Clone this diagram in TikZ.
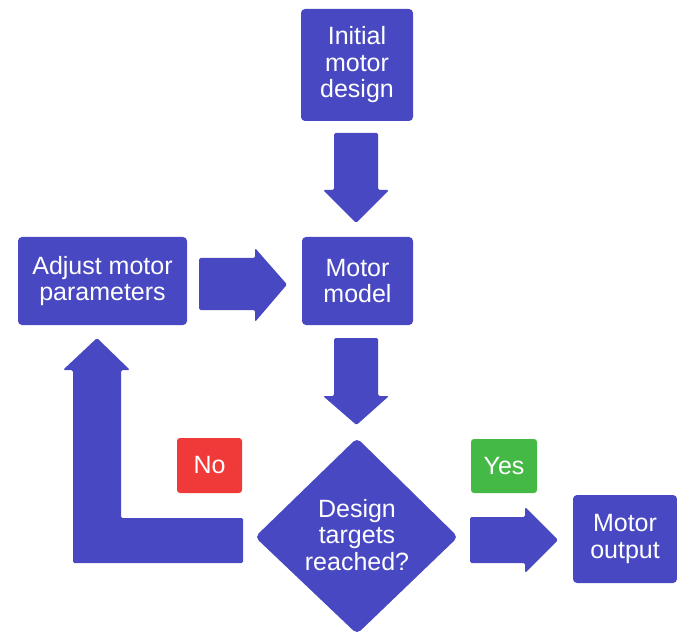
\documentclass[tikz,border=0pt]{standalone}
\usepackage{fontspec}
\setmainfont{Liberation Sans}
\definecolor{fblue}{HTML}{4848C2}
\definecolor{fred}{HTML}{F03A3A}
\definecolor{fgreen}{HTML}{45B946}
\begin{document}
\begin{tikzpicture}[x=1pt,y=-1pt,
  box/.style={fill=fblue, rounded corners=4pt, inner sep=0pt, text=white, align=center,
    font=\fontsize{25}{26.5}\selectfont},
  tag/.style={rounded corners=3pt, inner sep=0pt, text=white,
    font=\fontsize{25}{26.5}\selectfont},
  blk/.style={fill=fblue, rounded corners=1.5pt}]
\useasboundingbox (0,0) rectangle (677,636);
% boxes
\node[box, minimum width=112pt, minimum height=112pt] (init) at (357,65) {Initial\\motor\\design};
\node[box, minimum width=111pt, minimum height=88pt] (model) at (357.5,281) {Motor\\model};
\node[box, minimum width=169pt, minimum height=88pt] (adjust) at (102.5,281) {Adjust motor\\parameters};
\node[box, minimum width=104pt, minimum height=88pt] (output) at (625,539) {Motor\\output};
% decision diamond
\fill[fblue, rounded corners=5pt] (357,438) -- (458,537) -- (357,634) -- (255,537) -- cycle;
\node[text=white, align=center, font=\fontsize{25}{26.5}\selectfont] (dec) at (357,535) {Design\\targets\\reached?};
% labels
\node[tag, fill=fred, minimum width=65pt, minimum height=55pt] (no) at (209.5,465.5) {No};
\node[tag, fill=fgreen, minimum width=66pt, minimum height=54pt] (yes) at (504,466) {Yes};
% block arrows
\fill[blk] (334,133) -- (378,133) -- (378,190) -- (389,190) -- (356,223) -- (323,190) -- (334,190) -- cycle;
\fill[blk] (334,338) -- (378,338) -- (378,396) -- (389,396) -- (356.5,425) -- (323,396) -- (334,396) -- cycle;
\fill[blk] (199,258) -- (255,258) -- (255,248) -- (287,284.5) -- (255,322) -- (255,310) -- (199,310) -- cycle;
\fill[blk] (470,517) -- (525,517) -- (525,507) -- (558,540) -- (525,573) -- (525,563) -- (470,563) -- cycle;
\fill[blk] (243,518) -- (243,563) -- (73,563) -- (73,370) -- (63,370) -- (97,338) -- (130,370) -- (121,370) -- (121,518) -- cycle;
\end{tikzpicture}
\end{document}
